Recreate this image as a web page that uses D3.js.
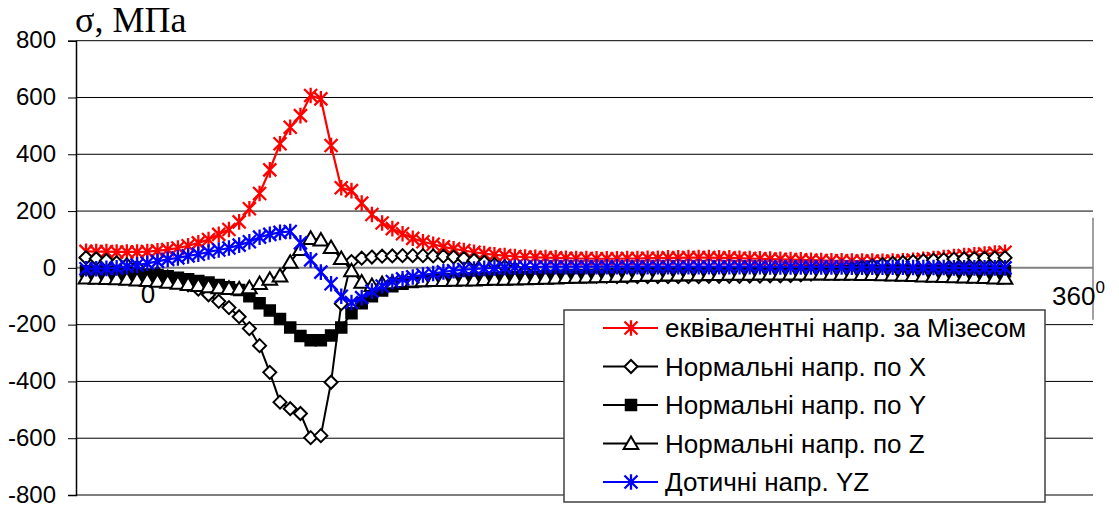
<!DOCTYPE html>
<html>
<head>
<meta charset="utf-8">
<script src="https://cdn.jsdelivr.net/npm/d3@7"></script>
<style>
  body { margin: 0; background: #fff; }
  svg { display: block; }
</style>
</head>
<body>
<svg id="chart" width="1119" height="506"></svg>
<script>
// Angle around the section, degrees (0..360, step 4)
const angles = d3.range(0, 361, 4);
const yTicks = [-800, -600, -400, -200, 0, 200, 400, 600, 800];

// Equivalent (von Mises) stress, MPa
const mises = [
  58, 57, 57, 56, 56, 56, 57, 60, 64, 70,
  78, 88, 100, 118, 135, 162, 208, 262, 345, 437,
  495, 536, 607, 595, 431, 282, 272, 228, 188, 158,
  138, 120, 104, 92, 83, 74, 67, 61, 55, 50,
  46, 43, 40, 38, 37, 36, 35, 34, 33, 33,
  32, 32, 32, 33, 33, 34, 34, 35, 35, 36,
  36, 36, 35, 35, 34, 33, 32, 31, 30, 29,
  28, 27, 26, 25, 25, 24, 24, 24, 23, 24,
  25, 27, 30, 33, 36, 40, 43, 46, 49, 52, 55
];
// Normal stress along X
const sigmaX = [
  36, 32, 26, 18, 10, 2, -8, -20, -32, -45,
  -60, -75, -95, -118, -140, -172, -214, -274, -368, -473,
  -496, -513, -598, -591, -403, -126, 22, 34, 38, 41,
  42, 43, 43, 43, 42, 41, 38, 33, 27, 20,
  12, 4, -4, -12, -18, -23, -26, -28, -29, -30,
  -30, -30, -31, -31, -31, -31, -31, -31, -31, -31,
  -31, -30, -30, -30, -30, -29, -29, -28, -28, -27,
  -25, -22, -18, -14, -8, -3, 2, 7, 12, 16,
  19, 22, 25, 27, 29, 31, 32, 33, 34, 35, 36
];
// Normal stress along Y
const sigmaY = [
  -12, -13, -14, -16, -18, -20, -23, -26, -30, -35,
  -40, -46, -52, -60, -68, -78, -100, -125, -150, -180,
  -210, -240, -255, -255, -238, -210, -160, -125, -100, -80,
  -65, -56, -50, -46, -43, -41, -40, -38, -37, -36,
  -35, -34, -33, -32, -31, -30, -29, -28, -27, -26,
  -25, -24, -23, -22, -21, -20, -20, -19, -19, -18,
  -18, -17, -17, -16, -16, -16, -15, -15, -15, -15,
  -15, -14, -14, -14, -14, -13, -13, -13, -13, -13,
  -13, -13, -12, -12, -12, -12, -12, -12, -12, -12, -12
];
// Normal stress along Z
const sigmaZ = [
  -35, -36, -37, -38, -40, -42, -44, -47, -50, -54,
  -58, -62, -66, -70, -72, -74, -70, -55, -40, -28,
  20, 65, 104, 98, 72, 33, -10, -50, -62, -55,
  -52, -48, -46, -45, -44, -44, -43, -42, -42, -41,
  -40, -40, -39, -38, -37, -36, -35, -34, -33, -32,
  -31, -30, -29, -28, -27, -26, -26, -25, -25, -24,
  -24, -23, -23, -22, -22, -22, -21, -21, -21, -21,
  -21, -21, -21, -22, -22, -22, -23, -23, -24, -25,
  -26, -27, -28, -29, -30, -31, -32, -33, -34, -35, -36
];
// Shear stress YZ
const tauYZ = [
  -3, -3, -2, 0, 5, 10, 16, 23, 30, 35,
  42, 48, 56, 63, 70, 80, 92, 108, 118, 125,
  128, 88, 28, -15, -56, -100, -122, -105, -82, -64,
  -48, -39, -32, -25, -20, -14, -10, -6, -4, -2,
  0, 1, 2, 3, 3, 4, 4, 4, 4, 4,
  4, 4, 4, 4, 4, 4, 4, 4, 4, 4,
  4, 4, 4, 4, 4, 4, 4, 3, 3, 3,
  3, 3, 3, 3, 3, 2, 2, 2, 2, 2,
  2, 1, 1, 1, 1, 0, 0, 0, 0, 0, 0
];

const seriesNames = [
  "еквівалентні напр. за Мізесом",
  "Нормальні напр. по X",
  "Нормальні напр. по Y",
  "Нормальні напр. по Z",
  "Дотичні напр. YZ"
];

// Marker shapes
const starType = { draw(ctx, size) {
  const r = Math.sqrt(size) / 2;
  ctx.moveTo(-r, -r); ctx.lineTo(r, r);
  ctx.moveTo(-r, r); ctx.lineTo(r, -r);
  ctx.moveTo(0, -r * 1.2); ctx.lineTo(0, r * 1.2);
}};
const diamondType = { draw(ctx, size) {
  const r = Math.sqrt(size) / 2;
  ctx.moveTo(0, -r); ctx.lineTo(r, 0); ctx.lineTo(0, r); ctx.lineTo(-r, 0); ctx.closePath();
}};
const squareType = { draw(ctx, size) {
  const r = Math.sqrt(size) / 2;
  ctx.rect(-r, -r, 2 * r, 2 * r);
}};
const triangleType = { draw(ctx, size) {
  const r = Math.sqrt(size) / 2;
  ctx.moveTo(0, -r); ctx.lineTo(r * 1.05, r * 0.8); ctx.lineTo(-r * 1.05, r * 0.8); ctx.closePath();
}};

const series = [
  { name: seriesNames[0], values: mises,  color: "#ff0000", lw: 2.2, type: starType,     size: 169, fill: "none",  sw: 2.3 },
  { name: seriesNames[1], values: sigmaX, color: "#000000", lw: 2,   type: diamondType,  size: 169, fill: "#fff",  sw: 2 },
  { name: seriesNames[2], values: sigmaY, color: "#000000", lw: 2,   type: squareType,   size: 121, fill: "#000",  sw: 1.5 },
  { name: seriesNames[3], values: sigmaZ, color: "#000000", lw: 2,   type: triangleType, size: 196, fill: "#fff",  sw: 2 },
  { name: seriesNames[4], values: tauYZ,  color: "#0000ff", lw: 2.2, type: starType,     size: 169, fill: "none",  sw: 2.3 }
];

const svg = d3.select("#chart");
const plotLeft = 76, plotRight = 1093;
const x = d3.scaleLinear().domain([0, 360]).range([86, 1005]);
const y = d3.scaleLinear().domain([-800, 800]).range([495, 40.7]);

// Horizontal gridlines
svg.append("g").selectAll("line")
  .data(yTicks.filter(d => d !== 0))
  .join("line")
  .attr("x1", plotLeft).attr("x2", plotRight)
  .attr("y1", d => y(d)).attr("y2", d => y(d))
  .attr("stroke", "#000").attr("stroke-width", 1);

// Zero line (category axis) and its end marker
svg.append("line")
  .attr("x1", plotLeft).attr("x2", plotRight)
  .attr("y1", y(0)).attr("y2", y(0))
  .attr("stroke", "#808080").attr("stroke-width", 2);
svg.append("line")
  .attr("x1", plotRight).attr("x2", plotRight)
  .attr("y1", y(0) - 50).attr("y2", y(0) + 52)
  .attr("stroke", "#808080").attr("stroke-width", 1.5);

// Value axis
const yAxis = svg.append("g")
  .attr("transform", `translate(${plotLeft},0)`)
  .call(d3.axisLeft(y).tickValues(yTicks).tickSize(8).tickPadding(12).tickFormat(d => String(d)));
yAxis.select(".domain").attr("stroke", "#000").attr("stroke-width", 1.5);
yAxis.selectAll(".tick line").attr("stroke", "#000").attr("stroke-width", 1);
yAxis.selectAll(".tick text")
  .attr("font-family", "'Liberation Sans', Arial, sans-serif")
  .attr("font-size", 24).attr("dy", "0.3em").attr("fill", "#000");

// Series lines and markers
const line = d3.line().x((d, i) => x(angles[i])).y(d => y(d));
series.forEach(s => {
  const g = svg.append("g");
  g.append("path")
    .datum(s.values)
    .attr("d", line)
    .attr("fill", "none")
    .attr("stroke", s.color)
    .attr("stroke-width", s.lw)
    .attr("stroke-linejoin", "round");
  g.selectAll("path.m")
    .data(s.values)
    .join("path")
    .attr("class", "m")
    .attr("transform", (d, i) => `translate(${x(angles[i])},${y(d)})`)
    .attr("d", d3.symbol().type(s.type).size(s.size))
    .attr("fill", s.fill)
    .attr("stroke", s.color)
    .attr("stroke-width", s.sw);
});

// Axis captions
svg.append("text")
  .attr("x", 75).attr("y", 32)
  .attr("font-family", "'Liberation Serif', 'Times New Roman', serif")
  .attr("font-size", 36).attr("fill", "#000")
  .text("σ, МПа");
svg.append("text")
  .attr("x", 148).attr("y", 303).attr("text-anchor", "middle")
  .attr("font-family", "'Liberation Sans', Arial, sans-serif")
  .attr("font-size", 26).attr("fill", "#000")
  .text("0");
const deg = svg.append("text")
  .attr("x", 1052).attr("y", 305)
  .attr("font-family", "'Liberation Sans', Arial, sans-serif")
  .attr("font-size", 26).attr("fill", "#000");
deg.append("tspan").text("360");
deg.append("tspan").attr("dy", -12).attr("font-size", 17).text("0");

// Legend
const lg = svg.append("g");
lg.append("rect")
  .attr("x", 564).attr("y", 310).attr("width", 481).attr("height", 192)
  .attr("fill", "#fff").attr("stroke", "#404040").attr("stroke-width", 1.5);
series.forEach((s, k) => {
  const cy = 328 + k * 38.5;
  const row = lg.append("g").attr("transform", `translate(0,${cy})`);
  row.append("line").attr("x1", 603).attr("x2", 658).attr("y1", 0).attr("y2", 0)
    .attr("stroke", s.color).attr("stroke-width", s.lw);
  row.append("path")
    .attr("transform", "translate(631,0)")
    .attr("d", d3.symbol().type(s.type).size(s.size))
    .attr("fill", s.fill).attr("stroke", s.color).attr("stroke-width", s.sw);
  row.append("text")
    .attr("x", 665).attr("y", 0).attr("dy", "0.36em")
    .attr("font-family", "'Liberation Sans', Arial, sans-serif")
    .attr("font-size", 26).attr("fill", "#000")
    .text(s.name);
});
</script>
</body>
</html>
